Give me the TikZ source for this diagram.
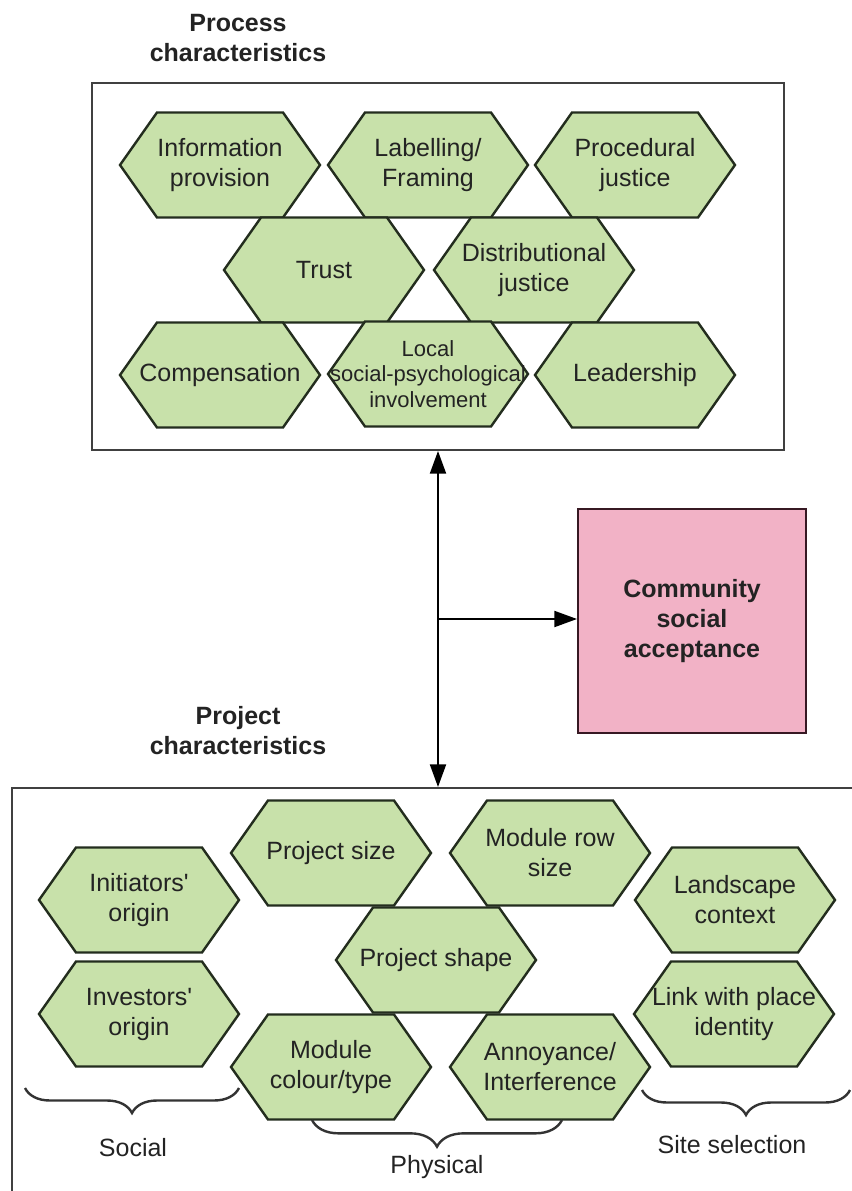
\documentclass[tikz,border=0pt]{standalone}
\usepackage{fontspec}
\setmainfont{Liberation Sans}
\usetikzlibrary{arrows.meta,calc,backgrounds,decorations.pathreplacing}
\definecolor{hexgreen}{RGB}{200,225,170}
\definecolor{hexedge}{RGB}{35,45,30}
\definecolor{accpink}{RGB}{242,178,198}
\definecolor{accedge}{RGB}{55,25,35}
\definecolor{textgray}{RGB}{35,35,35}
\tikzset{every picture/.style={line width=0.75pt}}
\tikzset{
  hexlabel/.style={align=center, inner sep=0pt, text=textgray, font=\fontsize{18.75}{22.5}\selectfont},
  hexline/.style={draw=hexedge, fill=hexgreen, line width=1.8pt},
  frame/.style={draw=black!75, line width=1.5pt, inner sep=0pt},
  heading/.style={align=center, text=textgray, font=\bfseries\fontsize{18.75}{22.5}\selectfont},
  grouplabel/.style={text=textgray, font=\fontsize{18.75}{22.5}\selectfont},
  groupbrace/.style={draw=black!80, line width=1.8pt, decorate, decoration={brace, amplitude=18.75pt, mirror}},
  flow/.style={line width=1.5pt, -{Triangle[length=17pt,width=12pt]}},
}

\begin{document}
\begin{tikzpicture}[x=0.75pt,y=0.75pt,yscale=-1,xscale=1]
		\useasboundingbox (0,0) rectangle (852,1191);
		
		% Text Node
		\node[heading] (proctitle) at (238,38) {Process\\characteristics};
		% Text Node
		\node[heading] (projtitle) at (238,731) {Project\\characteristics};
		
		%Shape: Rectangle [process box]
		\node[frame, minimum width=519pt, minimum height=275.25pt] (procbox) at (438,266.5) {};
		%Shape: Rectangle [project box]
		\node[frame, minimum width=643.5pt, minimum height=309pt] (projbox) at (441,994) {};
		%Shape: Rectangle [outcome]
		\node[frame, heading, draw=accedge, fill=accpink, minimum width=171pt, minimum height=168pt] (csa) at (692,621) {Community\\social\\acceptance};
		
		% Process hexagons
		\node[hexlabel] (info) at (220,165) {Information\\provision};
		\node[hexlabel] (label) at (428,165) {Labelling/\\Framing};
		\node[hexlabel] (proc) at (635,165) {Procedural\\justice};
		\node[hexlabel] (trust) at (324,270) {Trust};
		\node[hexlabel] (distr) at (534,270) {Distributional\\justice};
		\node[hexlabel] (comp) at (220,375) {Compensation};
		\node[hexlabel, font=\fontsize{16.5}{19}\selectfont] (local) at (428,374) {Local\\social-psychological\\involvement};
		\node[hexlabel] (lead) at (635,375) {Leadership};
		
		% Project hexagons
		\node[hexlabel] (init) at (139,900) {Initiators\textquotesingle\\origin};
		\node[hexlabel] (invest) at (139,1014) {Investors\textquotesingle\\origin};
		\node[hexlabel] (psize) at (331,853) {Project size};
		\node[hexlabel] (modrow) at (550,853) {Module row\\size};
		\node[hexlabel] (pshape) at (436,960) {Project shape};
		\node[hexlabel] (modcol) at (331,1067) {Module\\colour/type};
		\node[hexlabel] (annoy) at (550,1067) {Annoyance/\\Interference};
		\node[hexlabel] (land) at (735,900) {Landscape\\context};
		\node[hexlabel] (placelink) at (734,1014) {Link with place\\identity};
		
		\begin{scope}[on background layer]
		\foreach \n in {info, label, proc, trust, distr, comp, local, lead, init, invest, psize, modrow, pshape, modcol, annoy, land, placelink}
		  \draw[hexline] ($(\n.center)+(-100,0)$) -- ($(\n.center)+(-63,-52.5)$) -- ($(\n.center)+(63,-52.5)$) -- ($(\n.center)+(100,0)$) -- ($(\n.center)+(63,52.5)$) -- ($(\n.center)+(-63,52.5)$) -- cycle;
		\end{scope}
		
		% Arrows
		\draw[flow, {Triangle[length=17pt,width=12pt]}-{Triangle[length=17pt,width=12pt]}] (procbox.south) -- (procbox.south |- projbox.north);
		\coordinate (junct) at ($(procbox.south)!0.5!(procbox.south |- projbox.north)$);
		\draw[flow] (junct) -- (junct -| csa.west);
		
		% Braces
		\draw[groupbrace] (25,1088) -- (239,1088);
		\draw[groupbrace, decoration={amplitude=20pt}] (312,1120) -- (562,1120);
		\draw[groupbrace] (642,1090) -- (850,1090);
		
		% Text Node
		\node[grouplabel] (social) at (133,1148) {Social};
		% Text Node
		\node[grouplabel] (physical) at (437,1167) {Physical};
		% Text Node
		\node[grouplabel] (sitesel) at (732,1145) {Site selection};
		
\end{tikzpicture}
\end{document}
